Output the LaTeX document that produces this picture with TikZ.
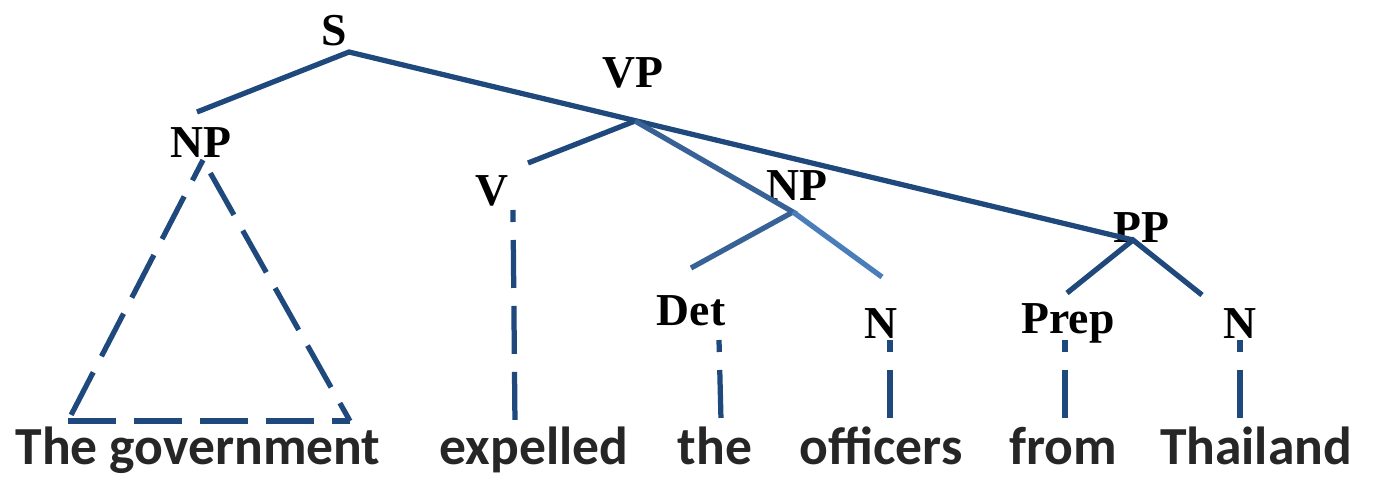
\documentclass[tikz,border=0pt]{standalone}
\usepackage{fontspec}
\setmainfont{Liberation Serif}
\newfontfamily\wordfont{Carlito}
\definecolor{treeblue}{RGB}{31,73,125}
\definecolor{treemid}{RGB}{56,98,150}
\definecolor{treelight}{RGB}{74,126,187}
\definecolor{wordgray}{RGB}{38,38,38}

\begin{document}
\begin{tikzpicture}[
  x=0.02cm, y=-0.02cm,
  cat/.style={font=\fontsize{26}{28}\selectfont\bfseries, anchor=base, inner sep=0pt},
  word/.style={font=\wordfont\fontsize{30.5}{32}\selectfont\bfseries, text=wordgray, anchor=base, inner sep=0pt},
  branch/.style={treeblue, line width=0.105cm},
  leaf/.style={treeblue, line width=0.105cm, dash pattern=on 0.96cm off 0.36cm}
]
\useasboundingbox (0,0) rectangle (1375,483);

% category labels
\node[cat] (s)    at (334,46)   {S};
\node[cat] (vp)   at (633,88)   {VP};
\node[cat] (np)   at (201,157)  {NP};
\node[cat] (v)    at (492,205)  {V};
\node[cat] (npo)  at (797,200)  {NP};
\node[cat] (det)  at (691,325)  {Det};
\node[cat] (n)    at (881,338)  {N};
\node[cat] (pp)   at (1141,242) {PP};
\node[cat] (prep) at (1068,333) {Prep};
\node[cat] (np2)  at (1240,338) {N};

% words
\node[word] (wgov)  at (198,464)  {The government};
\node[word] (wexp)  at (534,464)  {expelled};
\node[word] (wthe)  at (715,464)  {the};
\node[word] (woff)  at (881,464)  {officers};
\node[word] (wfrom) at (1063,464) {from};
\node[word] (wtha)  at (1256,464) {Thailand};

% branch points and line ends
\coordinate (sj)    at (349,52);
\coordinate (npe)   at (197,112);
\coordinate (vpj)   at (635,121);
\coordinate (ve)    at (528,163);
\coordinate (npj)   at (793,212);
\coordinate (dete)  at (691,268);
\coordinate (ne)    at (882,277);
\coordinate (ppj)   at (1133,240);
\coordinate (prepe) at (1067,293);
\coordinate (n2e)   at (1202,295);

\draw[branch] (npe) -- (sj) -- (ppj);
\draw[branch] (ve) -- (vpj);
\draw[treemid, line width=0.105cm] (vpj) -- (npj) -- (dete);
\draw[treelight, line width=0.105cm] (npj) -- (ne);
\draw[branch] (prepe) -- (ppj) -- (n2e);

% triangle over the subject
\coordinate (tri) at (203,160);
\coordinate (trl) at (68,421);
\coordinate (trr) at (350,421);
\draw[leaf, dash phase=0.5cm] (tri) -- (trl);
\draw[leaf] (trl) -- (trr);
\draw[leaf, dash phase=1.02cm] (tri) -- (trr);

% dashed lines down to the words
\coordinate (vt)  at (513,210);  \coordinate (vb)  at (515,425);
\coordinate (dt)  at (719,340);  \coordinate (db)  at (721,420);
\coordinate (nt)  at (890,340);  \coordinate (nb)  at (890,425);
\coordinate (pt)  at (1065,340); \coordinate (pb)  at (1065,418);
\coordinate (n2t) at (1240,340); \coordinate (n2b) at (1240,418);
\foreach \a/\b in {vt/vb, dt/db, nt/nb, pt/pb, n2t/n2b}
  \draw[leaf, dash phase=0.72cm] (\a) -- (\b);

\end{tikzpicture}
\end{document}
